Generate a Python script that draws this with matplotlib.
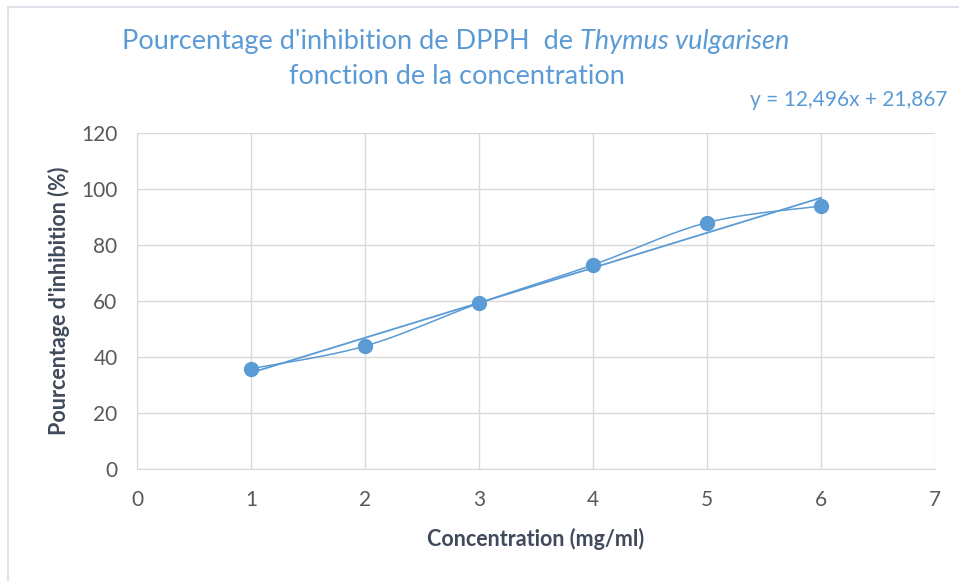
import numpy as np
import matplotlib
matplotlib.use("Agg")
import matplotlib.pyplot as plt
from matplotlib.lines import Line2D

# data
conc = [1, 2, 3, 4, 5, 6]
inhib = [35.8, 43.9, 59.2, 72.9, 88.0, 93.9]
slope, intercept = 12.496, 21.867   # Excel linear trendline shown on chart

BLUE = "#5B9BD5"
GRID = "#D9D9D9"
TICK = "#595959"
LABEL = "#404a5a"
plt.rcParams["font.family"] = ["Lato", "DejaVu Sans"]

W, H = 959, 581
fig = plt.figure(figsize=(W / 100, H / 100), dpi=100)
ax = fig.add_axes([137 / W, (H - 469) / H, (935 - 137) / W, (469 - 133) / H])


def catmull_rom(xs, ys, n=30):
    # smooth line through points, like Excel's "smoothed line"
    px = np.r_[xs[0], xs, xs[-1]]
    py = np.r_[ys[0], ys, ys[-1]]
    ox, oy = [], []
    for i in range(1, len(px) - 2):
        t = np.linspace(0, 1, n)
        for p, out in ((px, ox), (py, oy)):
            p0, p1, p2, p3 = p[i - 1], p[i], p[i + 1], p[i + 2]
            b1 = p1 + (p2 - p0) / 6
            b2 = p2 - (p3 - p1) / 6
            out.extend((1 - t) ** 3 * p1 + 3 * (1 - t) ** 2 * t * b1
                       + 3 * (1 - t) * t ** 2 * b2 + t ** 3 * p2)
    return ox, oy


sx, sy = catmull_rom(np.array(conc, float), np.array(inhib, float))
ax.plot(sx, sy, color=BLUE, lw=1.1, zorder=3)
tx = np.array([conc[0], conc[-1]], float)
ax.plot(tx, slope * tx + intercept, color=BLUE, lw=1.3, zorder=3)
ax.plot(conc, inhib, "o", color=BLUE, ms=10, mec=BLUE, zorder=4)

ax.set_xlim(0, 7)
ax.set_ylim(0, 120)
ax.set_xticks(range(0, 8))
ax.set_yticks(range(0, 121, 20))
ax.grid(True, color=GRID, lw=1)
ax.set_axisbelow(True)
for s in ["top", "right"]:
    ax.spines[s].set_visible(False)
for s in ["left", "bottom"]:
    ax.spines[s].set_color(GRID)
ax.tick_params(length=0, labelsize=15, colors=TICK, pad=14)
ax.tick_params(axis="x", pad=15)

ax.set_xlabel("Concentration (mg/ml)", fontsize=15.5, fontweight="bold", color=LABEL, labelpad=13)
ax.set_ylabel("Pourcentage d'inhibition (%)", fontsize=15.5, fontweight="bold", color=LABEL, labelpad=8)

# title with italic species name
r = fig.canvas.get_renderer()
part1 = "Pourcentage d'inhibition de DPPH  de "
part2 = "Thymus vulgarisen"
fs = 19.5
t1 = fig.text(0, 0, part1, fontsize=fs, color=BLUE)
t2 = fig.text(0, 0, part2, fontsize=fs, color=BLUE, style="italic")
w1 = t1.get_window_extent(r).width
w2 = t2.get_window_extent(r).width
x0 = 456 - (w1 + w2) / 2
t1.set_position((x0 / W, 1 - 42 / H))
t2.set_position(((x0 + w1) / W, 1 - 42 / H))
t1.set_va("center")
t2.set_va("center")
fig.text(457 / W, 1 - 77 / H, "fonction de la concentration", fontsize=fs, color=BLUE,
         ha="center", va="center")
fig.text(948 / W, 1 - 100 / H, "y = 12,496x + 21,867", fontsize=15, color=BLUE,
         ha="right", va="center")

# chart area border (top and left visible)
fig.add_artist(Line2D([8 / W, 8 / W], [0, 1 - 7 / H], transform=fig.transFigure, color="#DDE2EA", lw=1.5))
fig.add_artist(Line2D([8 / W, 1], [1 - 7 / H, 1 - 7 / H], transform=fig.transFigure, color="#DDE2EA", lw=1.5))

fig.savefig("out.png", dpi=100)
